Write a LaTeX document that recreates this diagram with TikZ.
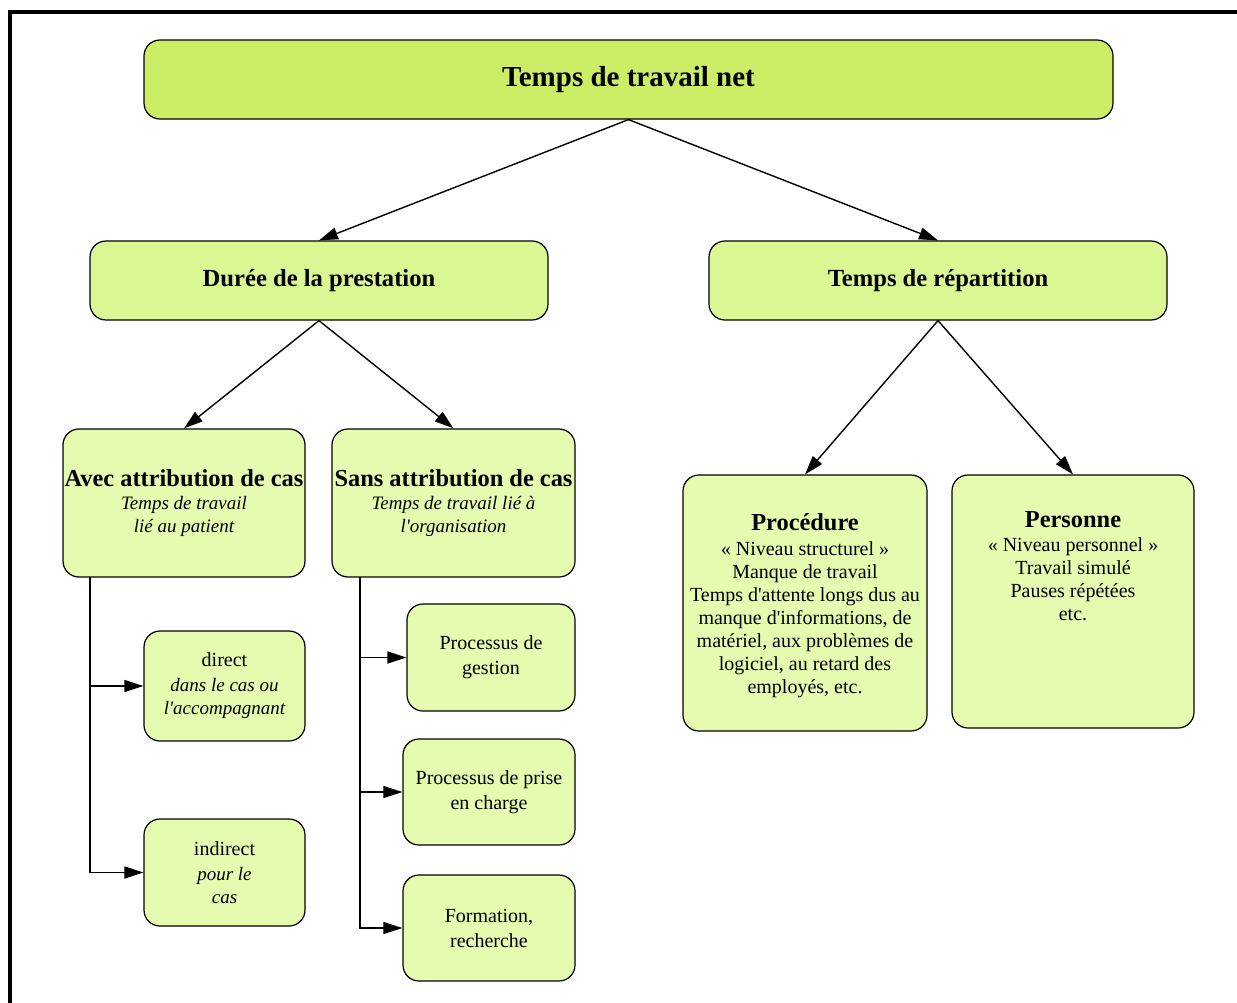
\documentclass[tikz,border=0pt]{standalone}
\usepackage{fontspec}
\setmainfont{Liberation Serif}[Ligatures=TeXOff]
\usetikzlibrary{arrows.meta}
\definecolor{limeA}{RGB}{204,238,102}
\definecolor{limeB}{RGB}{218,247,148}
\definecolor{limeC}{RGB}{229,251,176}
\begin{document}
\begin{tikzpicture}[x=1pt,y=-1pt,
  box/.style={draw=black, line width=1.2pt, rounded corners=16pt, inner sep=0pt,
    align=center, text=black, font=\fontsize{20}{23}\selectfont},
  lvA/.style={box, fill=limeA},
  lvB/.style={box, fill=limeB},
  lvC/.style={box, fill=limeC},
  boxtext/.style={align=center, inner sep=0pt, text=black, font=\fontsize{20}{23}\selectfont},
  conn/.style={line width=1.4pt, -{Triangle[length=19pt,width=12pt]}},
]
\useasboundingbox (0,0) rectangle (1237,1003);
\clip (0,0) rectangle (1237,1003);
\fill[white] (0,0) rectangle (1237,1003);

% outer frame
\draw[line width=4pt] (10,1020) -- (10,12) -- (1260,12);

% level 1
\node[lvA, minimum width=969pt, minimum height=79pt,
      font=\bfseries\fontsize{29}{33}\selectfont] (net) at (628.5,79.5) {Temps de travail net};

% level 2
\node[lvB, minimum width=458pt, minimum height=79pt,
      font=\bfseries\fontsize{24.6}{28}\selectfont] (dur) at (319,280.5) {Durée de la prestation};
\node[lvB, minimum width=458pt, minimum height=79pt,
      font=\bfseries\fontsize{24.6}{28}\selectfont] (rep) at (938,280.5) {Temps de répartition};

% level 3
\node[lvC, minimum width=242pt, minimum height=148pt] (avec) at (184,503)
  {{\bfseries\fontsize{24.4}{28}\selectfont Avec attribution de cas}\\[0pt]
   {\itshape\fontsize{19}{23}\selectfont Temps de travail}\\
   {\itshape\fontsize{19}{23}\selectfont lié au patient}};
\node[lvC, minimum width=243pt, minimum height=148pt] (sans) at (453.5,503)
  {{\bfseries\fontsize{24.4}{28}\selectfont Sans attribution de cas}\\[0pt]
   {\itshape\fontsize{19}{23}\selectfont Temps de travail lié à}\\
   {\itshape\fontsize{19}{23}\selectfont l'organisation}};
\node[lvC, minimum width=244pt, minimum height=256pt] (proc) at (805,603) {};
\node[boxtext] (proctext) at (805,606)
  {{\bfseries\fontsize{24.4}{28}\selectfont Procédure}\\[2pt]
   « Niveau structurel »\\ Manque de travail\\ Temps d'attente longs dus au\\
   manque d'informations, de\\ matériel, aux problèmes de\\ logiciel, au retard des\\
   employés, etc.};
\node[lvC, minimum width=242pt, minimum height=253pt] (pers) at (1073,601.5) {};
\node[boxtext] (perstext) at (1073,566)
  {{\bfseries\fontsize{24.4}{28}\selectfont Personne}\\[1pt]
   « Niveau personnel »\\ Travail simulé\\ Pauses répétées\\ etc.};

% level 4, case-related branch
\node[lvC, minimum width=161pt, minimum height=110pt] (direct) at (224.5,686)
  {direct\\[2pt] {\itshape\fontsize{19}{23}\selectfont dans le cas ou}\\
   {\itshape\fontsize{19}{23}\selectfont l'accompagnant}};
\node[lvC, minimum width=161pt, minimum height=107pt] (indirect) at (224.5,872.5)
  {indirect\\[2pt] {\itshape\fontsize{19}{23}\selectfont pour le}\\
   {\itshape\fontsize{19}{23}\selectfont cas}};

% level 4, organisation branch
\node[lvC, minimum width=168pt, minimum height=107pt] (gestion) at (491,657.5)
  {Processus de\\[2pt] gestion};
\node[lvC, minimum width=172pt, minimum height=106pt] (prise) at (489,792)
  {Processus de prise\\[2pt] en charge};
\node[lvC, minimum width=172pt, minimum height=106pt] (formation) at (489,928)
  {Formation,\\[2pt] recherche};

% connectors
\draw[conn] (net.south) -- (dur.north);
\draw[conn] (net.south) -- (rep.north);
\draw[conn] (dur.south) -- (avec.north);
\draw[conn] (dur.south) -- (sans.north);
\draw[conn] (rep.south) -- (proc.north);
\draw[conn] (rep.south) -- (pers.north);

\coordinate (avecstem) at (90,577);
\coordinate (sansstem) at (360,577);
\draw[conn] (avecstem) |- (direct.west);
\draw[conn] (avecstem) |- (indirect.west);
\draw[conn] (sansstem) |- (gestion.west);
\draw[conn] (sansstem) |- (prise.west);
\draw[conn] (sansstem) |- (formation.west);
\end{tikzpicture}
\end{document}
